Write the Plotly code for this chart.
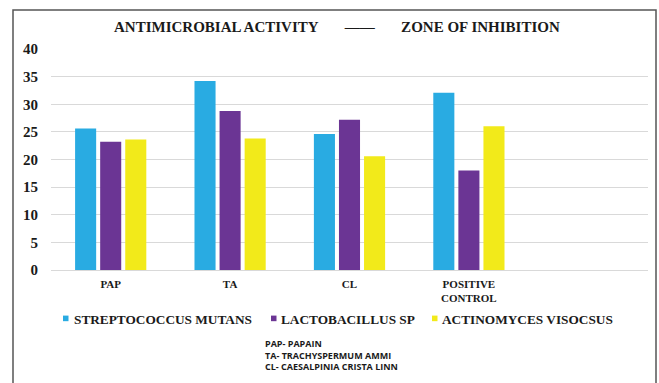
import plotly.graph_objects as go

# Zone of inhibition (mm) per extract, for each organism
categories = ["PAP", "TA", "CL", "POSITIVE<br>CONTROL", " "]
series_names = ["STREPTOCOCCUS MUTANS", "LACTOBACILLUS SP", "ACTINOMYCES VISOCSUS"]
strep_mutans = [25.6, 34.2, 24.6, 32.1]
lactobacillus = [23.2, 28.8, 27.2, 18.0]
actinomyces = [23.6, 23.8, 20.6, 26.0]
y_ticks = [0, 5, 10, 15, 20, 25, 30, 35, 40]
notes = ["PAP- PAPAIN", "TA- TRACHYSPERMUM AMMI", "CL- CAESALPINIA CRISTA LINN"]

colors = ["#29ABE2", "#6B3594", "#F2EA1A"]
serif = "Liberation Serif"
ink = "#1a1a1a"

# plot-area geometry (pixels) used to place the paper-anchored decorations
W, H = 659, 383
ML, MR, MT, MB = 51, 11, 49, 112.5
PW, PH = W - ML - MR, H - MT - MB


def px(x):
    return (x - ML) / PW


def py(y):
    return (H - MB - y) / PH


fig = go.Figure()
for name, vals, col in zip(series_names, [strep_mutans, lactobacillus, actinomyces], colors):
    fig.add_trace(go.Bar(
        x=categories[:len(vals)], y=vals, name=name,
        marker=dict(color=col, line=dict(width=0)),
    ))

fig.update_layout(
    width=W, height=H,
    margin=dict(l=ML, r=MR, t=MT, b=MB),
    paper_bgcolor="white", plot_bgcolor="white",
    barmode="group", bargap=0.37, bargroupgap=0.16,
    font=dict(family=serif, color=ink),
    showlegend=False,
    xaxis=dict(
        categoryorder="array", categoryarray=categories,
        range=[-0.5, 4.5], showgrid=False, zeroline=False, showline=False,
        ticks="", ticklabelstandoff=6,
        tickfont=dict(family=serif, size=11, color=ink, weight="bold"),
    ),
    yaxis=dict(
        range=[0, 40], tickvals=y_ticks,
        showgrid=True, gridcolor="#d9d9d9",
        gridwidth=1, zeroline=True, zerolinecolor="#d9d9d9", zerolinewidth=1,
        showline=False, ticks="", ticklabelstandoff=12,
        tickfont=dict(family=serif, size=15, color=ink, weight="bold"),
    ),
)

# Outer frame around the chart
fig.add_shape(type="rect", xref="paper", yref="paper",
              x0=px(13), x1=px(656), y0=py(392), y1=py(10),
              line=dict(color="#555555", width=1.5), fillcolor="rgba(0,0,0,0)", layer="above")

# Title
gap = "&nbsp;" * 7
fig.add_annotation(
    text=f"ANTIMICROBIAL ACTIVITY{gap}——{gap}ZONE OF INHIBITION",
    xref="paper", yref="paper", x=px(337), y=py(27), xanchor="center", yanchor="middle",
    showarrow=False, font=dict(family=serif, size=15, color=ink, weight="bold"),
)

# Series key: small colour squares with labels
key_swatch_x = [63, 271, 432]
key_text_x = [72, 279, 440]
key_y = 319
for name, col, sx, tx in zip(series_names, colors, key_swatch_x, key_text_x):
    fig.add_shape(type="rect", xref="paper", yref="paper",
                  x0=px(sx), x1=px(sx + 5.5), y0=py(key_y + 2.8), y1=py(key_y - 2.8),
                  line=dict(width=0), fillcolor=col)
    fig.add_annotation(
        text=name, xref="paper", yref="paper", x=px(tx), y=py(key_y + 1),
        xanchor="left", yanchor="middle", showarrow=False,
        font=dict(family=serif, size=13.3, color=ink, weight="bold"),
    )

# Abbreviation key, one block of left-aligned lines
fig.add_annotation(
    text="<br>".join(notes), xref="paper", yref="paper",
    x=px(263), y=py(355.7), xanchor="left", yanchor="middle", align="left",
    showarrow=False,
    font=dict(family="Liberation Sans Narrow, Open Sans, sans-serif", size=9,
              color=ink, weight="bold"),
)

fig.write_html("out.html")
